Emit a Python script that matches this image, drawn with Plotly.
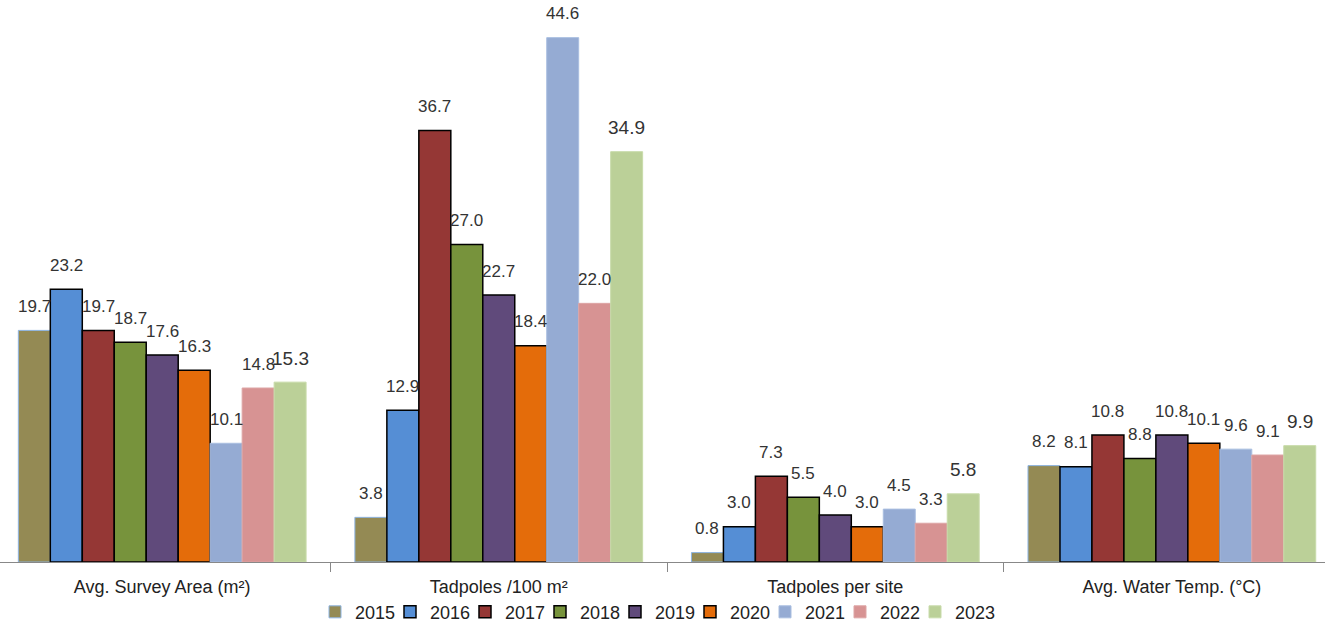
import plotly.graph_objects as go

categories = ["Avg. Survey Area (m²)", "Tadpoles /100 m²", "Tadpoles per site", "Avg. Water Temp. (°C)"]
years = ["2015", "2016", "2017", "2018", "2019", "2020", "2021", "2022", "2023"]
v2015 = [19.7, 3.8, 0.8, 8.2]
v2016 = [23.2, 12.9, 3.0, 8.1]
v2017 = [19.7, 36.7, 7.3, 10.8]
v2018 = [18.7, 27.0, 5.5, 8.8]
v2019 = [17.6, 22.7, 4.0, 10.8]
v2020 = [16.3, 18.4, 3.0, 10.1]
v2021 = [10.1, 44.6, 4.5, 9.6]
v2022 = [14.8, 22.0, 3.3, 9.1]
v2023 = [15.3, 34.9, 5.8, 9.9]
series = [v2015, v2016, v2017, v2018, v2019, v2020, v2021, v2022, v2023]

colors = ["#948A54", "#558ED5", "#953735", "#77933C", "#604A7B", "#E46C0A", "#95ABD3", "#D79393", "#BBD098"]
outlines = ["#8DB4E2", "#000000", "#000000", "#000000", "#000000", "#000000", "#A9BEE0", "#DDA5A5", "#C8DBAA"]
owidth = [1, 1.5, 1.5, 1.5, 1.5, 1.5, 1, 1, 1]
label_sizes = [17, 17, 17, 17, 17, 17, 17, 17, 19]

bargap = 0.145
n = len(years)
bw = (1 - bargap) / n

H = 631
plot_bottom_px = 572

fig = go.Figure()
annotations = []
for j, (yr, vals) in enumerate(zip(years, series)):
    fig.add_trace(go.Bar(
        x=categories, y=vals, name=yr,
        marker=dict(color=colors[j], line=dict(color=outlines[j], width=owidth[j])),
    ))
    for i, v in enumerate(vals):
        annotations.append(dict(
            x=i + (j - (n - 1) / 2) * bw, y=v, xref="x", yref="y",
            text=f"{v:.1f}", showarrow=False, yanchor="middle", yshift=24,
            font=dict(size=label_sizes[j], color="#333333", family="Arial"),
        ))

# invisible spacer entry so the last legend label is not clipped
fig.add_trace(go.Scatter(x=[None], y=[None], name=" ", mode="markers",
                         marker=dict(color="rgba(0,0,0,0)", size=1), hoverinfo="skip"))

fig.update_layout(
    width=1325, height=H,
    margin=dict(l=0, r=0, t=0, b=0),
    paper_bgcolor="white", plot_bgcolor="white",
    barmode="group", bargap=bargap, bargroupgap=0,
    font=dict(family="Arial", color="#222222", size=18),
    annotations=annotations,
    showlegend=True,
    legend=dict(orientation="h", x=315 / 1325, xanchor="left", y=(H - 623) / H, yanchor="middle",
                font=dict(size=18, color="#222222", family="Arial"), itemwidth=30,
                entrywidth=30, entrywidthmode="pixels", tracegroupgap=0,
                bgcolor="rgba(0,0,0,0)"),
    xaxis=dict(range=[-0.482, 3.455], showline=True, linecolor="#888888", linewidth=1,
               ticks="outside", tickson="boundaries", ticklen=9, tickcolor="#888888",
               ticklabelstandoff=8, automargin=False,
               tickfont=dict(size=18, color="#222222", family="Arial"), showgrid=False),
    yaxis=dict(range=[0, 47.8], domain=[(H - plot_bottom_px) / H, 1], visible=False,
               showgrid=False, zeroline=False),
)

fig.write_html("out.html")
